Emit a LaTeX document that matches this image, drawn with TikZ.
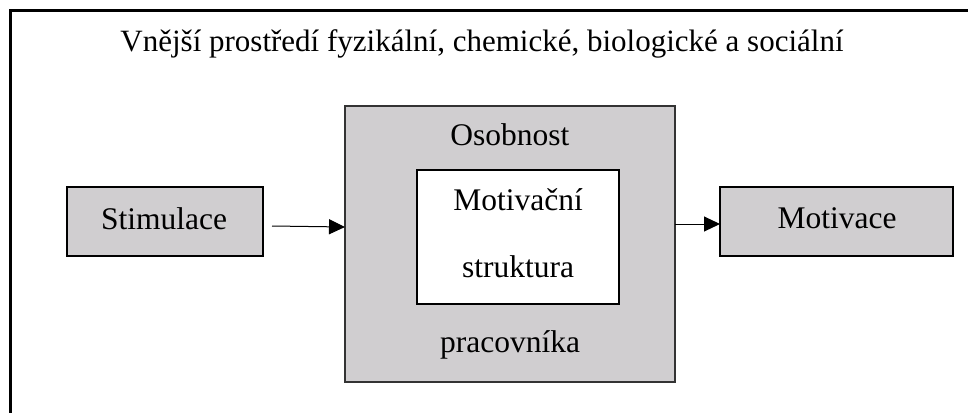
\documentclass[tikz,border=0pt]{standalone}
\usepackage{fontspec}
\setmainfont{Liberation Serif}
\usetikzlibrary{arrows.meta}
\definecolor{boxgray}{HTML}{D0CED0}
\begin{document}
\begin{tikzpicture}[x=1pt,y=-1pt,
  lbl/.style={font=\fontsize{31.5}{36}\selectfont, anchor=base, inner sep=0pt},
  graybox/.style={draw=black, line width=2.5pt, fill=boxgray},
  arr/.style={line width=1pt, -{Triangle[length=16pt,width=15pt]}}]
\useasboundingbox (0,0) rectangle (968,412);
\draw[line width=3pt] (10,420) -- (10,11) -- (975,11);
\node[lbl, font=\fontsize{31}{36}\selectfont] (title) at (482,52) {Vnější prostředí fyzikální, chemické, biologické a sociální};
% Stimulace
\draw[graybox] (67,187) rectangle (263,256);
\node[lbl] (stim) at (164,229) {Stimulace};
% big box
\draw[draw=black!80, line width=1.5pt, fill=boxgray] (345,106) rectangle (675,382);
\coordinate (bigW) at (345,227);
\coordinate (bigE) at (675,224);
\node[lbl] (oso) at (510,145) {Osobnost};
\node[lbl] (prac) at (510,352) {pracovníka};
% inner box
\draw[draw=black, line width=2.5pt, fill=white] (417,170) rectangle (619,304);
\node[lbl] (mot1) at (518,210) {Motivační};
\node[lbl] (mot2) at (518,277) {struktura};
% Motivace
\draw[graybox] (720,187) rectangle (953,256);
\node[lbl] (moti) at (837,228) {Motivace};
\coordinate (motW) at (720,224);
% arrows
\coordinate (a1s) at (272,226);
\draw[arr] (a1s) -- (bigW);
\draw[arr] (bigE) -- (motW);
\end{tikzpicture}
\end{document}
